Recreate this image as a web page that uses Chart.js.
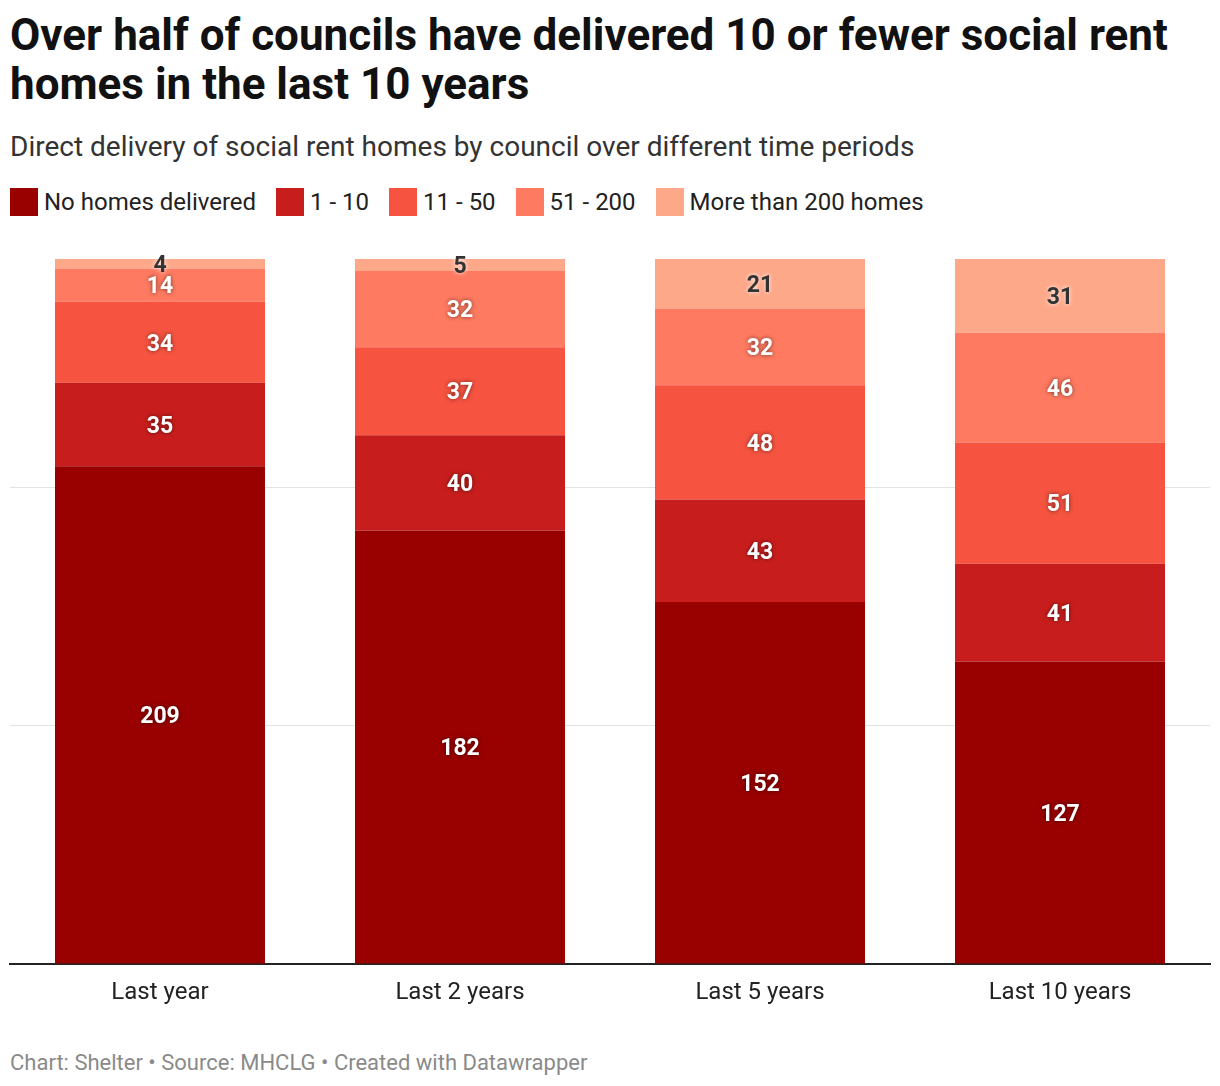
<!DOCTYPE html>
<html>
<head>
<meta charset="utf-8">
<script src="https://cdn.jsdelivr.net/npm/chart.js@4/dist/chart.umd.min.js"></script>
<style>
  body { margin: 0; background: #fff; font-family: Roboto, "Noto Sans", sans-serif; width: 1220px; height: 1086px; position: relative; overflow: hidden; }
  h1 { position: absolute; left: 10px; top: 11px; margin: 0; font-size: 44px; line-height: 49px; font-weight: 700; color: #111; width: 1200px; }
  .sub { position: absolute; left: 10px; top: 130px; font-size: 28px; color: #333; }
  .legend { position: absolute; left: 10px; top: 188px; display: flex; font-size: 24px; color: #222; }
  .legend span { display: flex; align-items: center; margin-right: 20px; }
  .legend i { display: inline-block; width: 28px; height: 28px; margin-right: 6px; }
  #wrap { position: absolute; left: 0; top: 240px; width: 1220px; height: 790px; }
  .foot { position: absolute; left: 10px; top: 1050px; font-size: 22px; color: #8a8a8a; }
</style>
</head>
<body>
<h1>Over half of councils have delivered 10 or fewer social rent homes in the last 10 years</h1>
<div class="sub">Direct delivery of social rent homes by council over different time periods</div>
<div class="legend" id="legend"></div>
<div id="wrap"><canvas id="chart"></canvas></div>
<div class="foot">Chart: Shelter • Source: MHCLG • Created with Datawrapper</div>
<script>
const periods = ['Last year', 'Last 2 years', 'Last 5 years', 'Last 10 years'];
const seriesNames = ['No homes delivered', '1 - 10', '11 - 50', '51 - 200', 'More than 200 homes'];
const noHomes = [209, 182, 152, 127];
const oneToTen = [35, 40, 43, 41];
const elevenToFifty = [34, 37, 48, 51];
const fiftyOneToTwoHundred = [14, 32, 32, 46];
const overTwoHundred = [4, 5, 21, 31];
const colors = ['#990000', '#c71e1d', '#f65340', '#fe7a61', '#fea88a'];
const gridValues = [0, 100, 200];
const totalCouncils = 296;

const seriesData = [noHomes, oneToTen, elevenToFifty, fiftyOneToTwoHundred, overTwoHundred];

// html legend
const legendEl = document.getElementById('legend');
seriesNames.forEach(function(name, i) {
    const s = document.createElement('span');
    s.innerHTML = '<i style="background:' + colors[i] + '"></i>' + name;
    legendEl.appendChild(s);
});

// draw the numbers inside each segment
const segmentLabels = {
    id: 'segmentLabels',
    afterDatasetsDraw(chart) {
        const ctx = chart.ctx;
        ctx.save();
        ctx.font = 'bold 23px Roboto';
        ctx.textAlign = 'center';
        ctx.textBaseline = 'middle';
        chart.data.datasets.forEach(function(ds, di) {
            const meta = chart.getDatasetMeta(di);
            meta.data.forEach(function(bar, i) {
                const mid = (bar.y + bar.base) / 2;
                const light = di === 4;
                ctx.shadowColor = light ? 'rgba(255,255,255,0.9)' : 'rgba(0,0,0,0.55)';
                ctx.shadowBlur = 4;
                ctx.fillStyle = light ? '#333333' : '#ffffff';
                ctx.fillText(ds.data[i], bar.x, mid + 2.5);
            });
        });
        ctx.restore();
    }
};

new Chart(document.getElementById('chart'), {
    type: 'bar',
    data: {
        labels: periods,
        datasets: seriesData.map(function(d, i) {
            return {
                label: seriesNames[i],
                data: d,
                backgroundColor: colors[i],
                borderWidth: 0,
                barPercentage: 0.7,
                categoryPercentage: 1
            };
        })
    },
    options: {
        responsive: true,
        maintainAspectRatio: false,
        animation: false,
        layout: { padding: { left: 10, right: 10, top: 19, bottom: 0 } },
        plugins: {
            legend: { display: false },
            tooltip: { enabled: false }
        },
        scales: {
            x: {
                stacked: true,
                grid: { display: false },
                border: { display: true, color: '#222', width: 2 },
                ticks: { color: '#222', font: { family: 'Roboto', size: 24 }, padding: 7 },
                afterFit: function(scale) { scale.height = 66; }
            },
            y: {
                stacked: true,
                min: 0,
                max: totalCouncils,
                display: true,
                afterBuildTicks: function(scale) {
                    scale.ticks = gridValues.map(function(v) { return { value: v }; });
                },
                ticks: { display: false },
                border: { display: false },
                grid: {
                    drawTicks: false,
                    color: function(c) { return c.tick && c.tick.value === 0 ? 'rgba(0,0,0,0)' : '#e3e3e3'; },
                    lineWidth: 1
                },
                afterFit: function(scale) { scale.width = 0; }
            }
        }
    },
    plugins: [segmentLabels]
});
</script>
</body>
</html>
